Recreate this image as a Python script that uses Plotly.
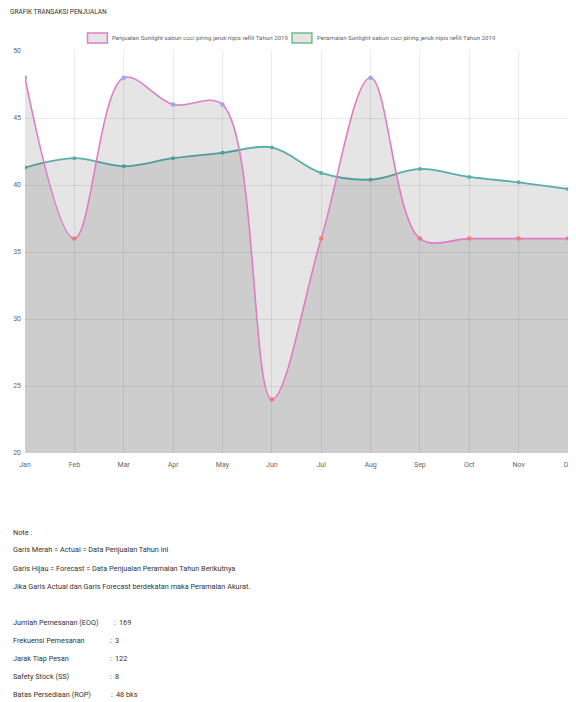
import plotly.graph_objects as go

months = ["Jan", "Feb", "Mar", "Apr", "May", "Jun", "Jul", "Aug", "Sep", "Oct", "Nov", "Dec"]
month_labels = ["Jan", "Feb", "Mar", "Apr", "May", "Jun", "Jul", "Aug", "Sep", "Oct", "Nov", "De"]
actual = [48, 36, 48, 46, 46, 24, 36, 48, 36, 36, 36, 36]
forecast = [41.3, 42.0, 41.4, 42.0, 42.4, 42.8, 40.9, 40.4, 41.2, 40.6, 40.2, 39.7]
y_ticks = [20, 25, 30, 35, 40, 45, 50]

actual_name = "Penjualan Sunlight sabun cuci piring jeruk nipis refill Tahun 2019"
forecast_name = "Peramalan Sunlight sabun cuci piring jeruk nipis refill Tahun 2019"

title_text = "GRAFIK TRANSAKSI PENJUALAN"
note_lines = [
    "Note :",
    "Garis Merah = Actual = Data Penjualan Tahun ini",
    "Garis Hijau = Forecast = Data Penjualan Peramalan Tahun Berikutnya",
    "Jika Garis Actual dan Garis Forecast berdekatan maka Peramalan Akurat.",
]
stat_labels = ["Jumlah Pemesanan (EOQ)", "Frekuensi Pemesanan", "Jarak Tiap Pesan",
               "Safety Stock (SS)", "Batas Persediaan (ROP)"]
stat_values = ["169", "3", "122", "8", "48 bks"]

FONT = "Roboto, Liberation Sans, sans-serif"
OFF = 8  # page body margin
W, H = 576 - OFF, 702 - OFF
M_T, M_B, M_L, M_R = 51 - OFF, H - (453 - OFF), 25 - OFF, W - (572 - OFF)
PH = H - M_T - M_B
PW = W - M_L - M_R


def py(pix):
    # reference pixel y (from top of window) -> paper coordinate
    return (H - M_B - (pix - OFF)) / PH


def px(pix):
    return ((pix - OFF) - M_L) / PW


x_idx = list(range(len(months)))
point_colors = ["#9fa6e6" if a > f else "#f07a7a" for a, f in zip(actual, forecast)]

fig = go.Figure()
fig.add_trace(go.Scatter(
    x=x_idx, y=forecast, mode="lines+markers", name=forecast_name,
    line=dict(color="#5aaeaa", width=1.8, shape="spline", smoothing=1.0),
    marker=dict(size=4, color="#5aaeaa"),
    fill="tozeroy", fillcolor="rgba(0,0,0,0.1)", showlegend=False,
))
fig.add_trace(go.Scatter(
    x=x_idx, y=actual, mode="lines+markers", name=actual_name,
    line=dict(color="#e07cc6", width=1.6, shape="spline", smoothing=1.0),
    marker=dict(size=4.5, color=point_colors),
    fill="tozeroy", fillcolor="rgba(0,0,0,0.1)", showlegend=False,
))

annotations = []
shapes = []


def txt(t, x, y, size, color):
    annotations.append(dict(text=t, xref="paper", yref="paper", x=px(x), y=py(y),
                            xanchor="left", yanchor="middle", align="left", showarrow=False,
                            font=dict(family=FONT, size=size, color=color)))


txt(title_text, 8, 12, 6.5, "#333")

for (x0, color, label) in [(88, "#e07cc6", actual_name), (294, "#6cbf86", forecast_name)]:
    shapes.append(dict(type="rect", xref="paper", yref="paper",
                       x0=px(x0), x1=px(x0 + 20), y0=py(43), y1=py(33),
                       line=dict(color=color, width=1.5), fillcolor="#e5e5e5"))
    txt(label, x0 + 23, 38, 6.2, "#666")

for t, yy in zip(note_lines, [532, 549, 568, 586]):
    txt(t, 11, yy, 7.3, "#333")

colon_x = [113, 109, 109, 109, 110]
for lab, val, yy, cx in zip(stat_labels, stat_values, [622, 640, 658, 676, 694], colon_x):
    txt(lab, 11, yy, 7.3, "#333")
    txt(":", cx, yy, 7.3, "#333")
    txt(val, cx + 5, yy, 7.3, "#333")

fig.update_layout(
    width=W, height=H,
    margin=dict(t=M_T, b=M_B, l=M_L, r=M_R),
    paper_bgcolor="white", plot_bgcolor="white",
    font=dict(family=FONT, size=7, color="#666"),
    showlegend=False,
    annotations=annotations, shapes=shapes,
    xaxis=dict(range=[0, 11], tickmode="array", tickvals=x_idx, ticktext=month_labels,
               showgrid=True, gridcolor="rgba(0,0,0,0.08)", gridwidth=1,
               zeroline=False, showline=False, ticks="", ticklen=0,
               ticklabeloverflow="allow", ticklabelstandoff=6,
               tickfont=dict(family=FONT, size=7, color="#666")),
    yaxis=dict(range=[20, 50], tickmode="array", tickvals=y_ticks,
               showgrid=True, gridcolor="rgba(0,0,0,0.08)", gridwidth=1,
               zeroline=False, showline=False, ticks="", ticklen=0,
               ticklabelstandoff=3,
               tickfont=dict(family=FONT, size=7, color="#666")),
)

fig.write_html("out.html")
